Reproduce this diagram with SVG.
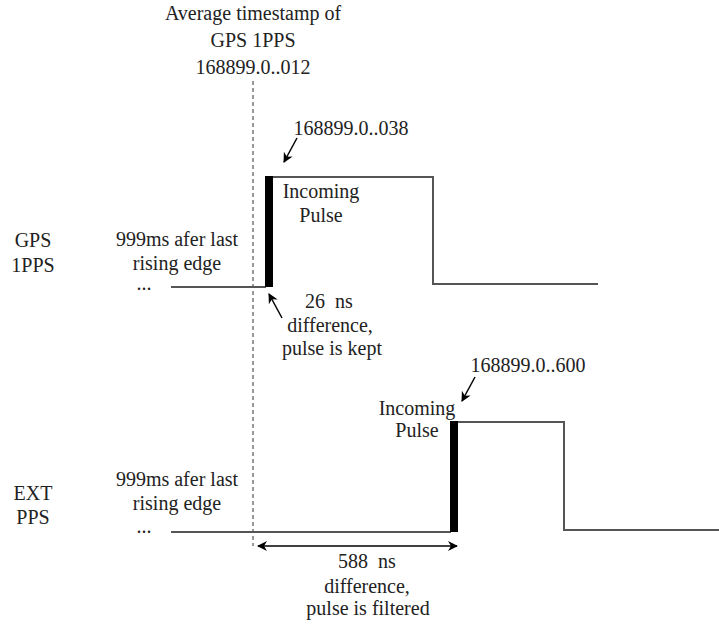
<svg xmlns="http://www.w3.org/2000/svg" width="719" height="624" viewBox="0 0 719 624">
<defs>
<marker id="ah2" viewBox="0 0 10 10" refX="9" refY="5" markerWidth="10" markerHeight="10" orient="auto-start-reverse" markerUnits="userSpaceOnUse">
<path d="M0,0 L10,5 L0,10 L3,5 Z" fill="#000"/>
</marker>
</defs>
<style>
text{font-family:'Liberation Serif','DejaVu Serif',serif;font-size:20px;fill:#222;text-anchor:middle;white-space:pre}
.sig{fill:none;stroke:#555;stroke-width:2}
.bar{fill:#000}
.arr{stroke:#000;stroke-width:1.5;fill:none}
.dash{stroke:#333;stroke-width:1;stroke-dasharray:4 3;fill:none}
</style>
<g id="title">
<text x="253" y="20">Average timestamp of</text>
<text x="253" y="47">GPS 1PPS</text>
<text x="253" y="74">168899.0..012</text>
</g>
<g id="connectors">
<line class="dash" x1="253" y1="81" x2="253" y2="546"/>
<line class="arr" x1="297" y1="138" x2="284" y2="162" marker-end="url(#ah2)"/>
<line class="arr" x1="282" y1="318" x2="269" y2="294" marker-end="url(#ah2)"/>
<line class="arr" x1="475" y1="377" x2="462" y2="401" marker-end="url(#ah2)"/>
<line class="arr" x1="258" y1="546" x2="457" y2="546" marker-start="url(#ah2)" marker-end="url(#ah2)"/>
</g>
<g id="gps-label">
<text x="33" y="247">GPS</text>
<text x="33" y="272">1PPS</text>
</g>
<g id="gps-before">
<text x="177" y="246">999ms afer last</text>
<text x="177" y="270">rising edge</text>
<text x="144" y="290" font-size="18">...</text>
</g>
<g id="gps-signal">
<polyline class="sig" points="171,287 266,287"/>
<polyline class="sig" points="272,177 433,177 433,284 598,284"/>
<rect class="bar" x="265" y="176" width="8" height="111"/>
</g>
<g id="gps-ts">
<text x="351" y="135">168899.0..038</text>
</g>
<g id="gps-incoming">
<text x="321" y="198">Incoming</text>
<text x="321" y="222">Pulse</text>
</g>
<g id="gps-diff">
<text x="329" y="308" xml:space="preserve">26  ns</text>
<text x="330" y="332">difference,</text>
<text x="332" y="355">pulse is kept</text>
</g>
<g id="ext-label">
<text x="33" y="500">EXT</text>
<text x="33" y="524">PPS</text>
</g>
<g id="ext-before">
<text x="177" y="486">999ms afer last</text>
<text x="177" y="510">rising edge</text>
<text x="144" y="533" font-size="18">...</text>
</g>
<g id="ext-signal">
<polyline class="sig" points="171,532 451,532"/>
<polyline class="sig" points="458,422 564,422 564,530 719,530"/>
<rect class="bar" x="450" y="421" width="8" height="111"/>
</g>
<g id="ext-ts">
<text x="528" y="372">168899.0..600</text>
</g>
<g id="ext-incoming">
<text x="417" y="415">Incoming</text>
<text x="417" y="437">Pulse</text>
</g>
<g id="ext-diff">
<text x="367" y="568" xml:space="preserve">588  ns</text>
<text x="367" y="593">difference,</text>
<text x="368" y="615">pulse is filtered</text>
</g>
</svg>
